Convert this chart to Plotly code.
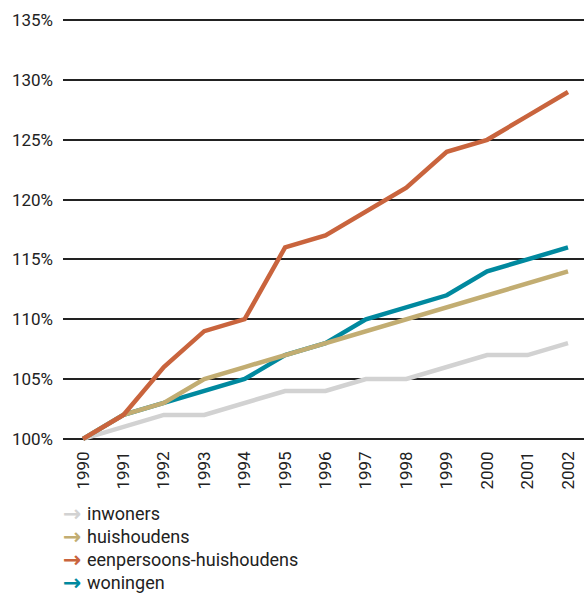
import plotly.graph_objects as go

years = [1990, 1991, 1992, 1993, 1994, 1995, 1996, 1997, 1998, 1999, 2000, 2001, 2002]

inwoners = [100, 101, 102, 102, 103, 104, 104, 105, 105, 106, 107, 107, 108]
huishoudens = [100, 102, 103, 105, 106, 107, 108, 109, 110, 111, 112, 113, 114]
eenpersoons = [100, 102, 106, 109, 110, 116, 117, 119, 121, 124, 125, 127, 129]
woningen = [100, 102, 103, 104, 105, 107, 108, 110, 111, 112, 114, 115, 116]

series_names = ["inwoners", "huishoudens", "eenpersoons-huishoudens", "woningen"]
series_values = [inwoners, huishoudens, eenpersoons, woningen]
series_colors = ["#d2d2d2", "#c2ad72", "#c9643d", "#00899f"]

y_ticks = [100, 105, 110, 115, 120, 125, 130, 135]
y_labels = ["100%", "105%", "110%", "115%", "120%", "125%", "130%", "135%"]

fig = go.Figure()

# draw in order so the light series sits at the back
draw_order = [0, 3, 1, 2]
for i in draw_order:
    fig.add_trace(go.Scatter(
        x=years, y=series_values[i], mode="lines", name=series_names[i],
        line=dict(color=series_colors[i], width=4.5, shape="linear"),
        showlegend=False, hoverinfo="skip",
    ))

font_family = "Roboto, 'DejaVu Sans', sans-serif"

PLOT_TOP = 19
PLOT_H = 427

fig.update_layout(
    width=584, height=595,
    margin=dict(l=63, r=0, t=PLOT_TOP, b=595 - PLOT_TOP - PLOT_H),
    paper_bgcolor="white", plot_bgcolor="white",
    font=dict(family=font_family, size=17, color="#222"),
    xaxis=dict(
        range=[1989.505, 2002.396], tickmode="array", tickvals=years,
        ticktext=[str(y) for y in years], tickangle=-90,
        showgrid=False, zeroline=False, showline=False, ticks="",
        tickfont=dict(size=17, color="#222"), ticklabelstandoff=1,
    ),
    yaxis=dict(
        range=[99.4, 135.1], tickmode="array", tickvals=y_ticks, ticktext=y_labels,
        showgrid=True, gridcolor="#222", gridwidth=2, zeroline=False, showline=False,
        ticks="", tickfont=dict(size=17, color="#222"), ticklabelstandoff=9,
    ),
)


def paper_y(px):
    return 1 - (px - PLOT_TOP) / PLOT_H


def paper_x(px):
    return (px - 63) / (584 - 63)


# legend built from arrows and labels below the axis
legend_top = 513
legend_step = 23.2
for k, (name, color) in enumerate(zip(series_names, series_colors)):
    yy = paper_y(legend_top + k * legend_step)
    fig.add_annotation(
        xref="paper", yref="paper", xanchor="left", yanchor="middle",
        x=paper_x(61), y=yy, text="<b>→</b>", showarrow=False,
        font=dict(family="'DejaVu Sans', sans-serif", size=22, color=color),
    )
    fig.add_annotation(
        xref="paper", yref="paper", xanchor="left", yanchor="middle",
        x=paper_x(85), y=yy, text=name, showarrow=False,
        font=dict(family=font_family, size=18, color="#222"),
    )

fig.write_html("out.html")
